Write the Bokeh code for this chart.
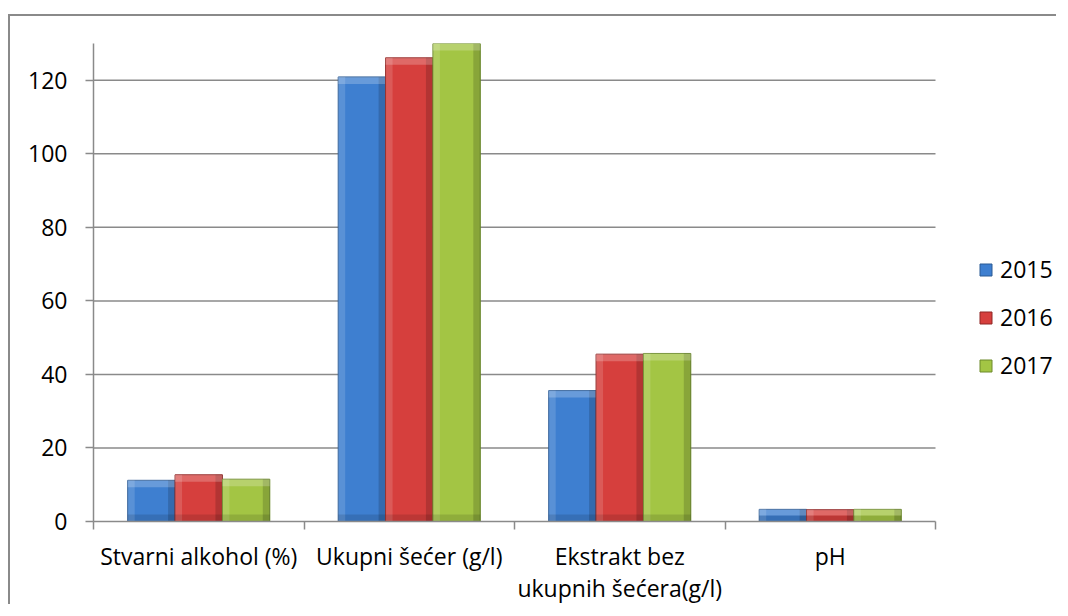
import numpy as np
from bokeh.plotting import figure
from bokeh.models import Range1d, FixedTicker, Legend, LegendItem, ColumnDataSource
from bokeh.embed import file_html
from bokeh.resources import INLINE

categories = ["Stvarni alkohol (%)", "Ukupni šećer (g/l)", "Ekstrakt bez\nukupnih šećera(g/l)", "pH"]
years = ["2015", "2016", "2017"]
v2015 = [11.2, 120.9, 35.6, 3.3]
v2016 = [12.7, 126.1, 45.5, 3.2]
v2017 = [11.5, 130.5, 45.7, 3.3]
yticks = [0, 20, 40, 60, 80, 100, 120]

colors = ["#3e7fd0", "#d63f3d", "#a3c544"]
edges = ["#2b5a94", "#8f2624", "#6c8a2a"]
series = [v2015, v2016, v2017]

FONT = "Open Sans"
FS = "23px"
GRID = "#8a8a8a"

W, H = 1048, 590
ML, MT, PLOT_W, PLOT_H = 83, 27, 842, 479
FRAME_W = W - ML
ncat = len(categories)
YMAX = 130
p = figure(width=W, height=H, output_backend="svg", toolbar_location=None,
           x_range=Range1d(0, ncat * FRAME_W / PLOT_W), y_range=Range1d(0, YMAX),
           min_border_left=ML, min_border_top=MT, min_border_right=0, min_border_bottom=H - MT - PLOT_H)
p.styles = {"border-top": "2px solid #8a8a8a", "border-left": "2px solid #8a8a8a",
            "margin-top": "14px", "margin-left": "8px"}
p.outline_line_color = None
p.background_fill_color = "white"
p.border_fill_color = "white"
p.xgrid.grid_line_color = None
p.ygrid.grid_line_color = None

# horizontal gridlines limited to the category area
gy = yticks[1:]
p.segment(x0=[0] * len(gy), x1=[ncat] * len(gy), y0=gy, y1=gy, line_color=GRID, line_width=1.5)

centers = np.arange(ncat) + 0.5
bw = 0.225
offsets = [-bw, 0.0, bw]
# bevel sizes (≈7 px) expressed in data units
bx = 7 * ncat / PLOT_W
by = 7 * YMAX / PLOT_H
renderers = []
for vals, off, c, e in zip(series, offsets, colors, edges):
    v = np.array(vals, dtype=float)
    x = centers + off
    src = ColumnDataSource(dict(x=x, top=v))
    r = p.vbar(x="x", top="top", width=bw, bottom=0, source=src,
               fill_color=c, line_color=e, line_width=1)
    renderers.append(r)
    vt = np.minimum(v, YMAX)
    band = np.minimum(by, vt / 2)
    # left light edge, right dark edge, bottom dark edge, top light cap
    p.quad(left=x - bw / 2, right=x - bw / 2 + bx, top=vt, bottom=0,
           fill_color="white", fill_alpha=0.14, line_color=None)
    p.quad(left=x + bw / 2 - bx, right=x + bw / 2, top=vt, bottom=0,
           fill_color="black", fill_alpha=0.16, line_color=None)
    p.quad(left=x - bw / 2, right=x + bw / 2, top=band, bottom=0,
           fill_color="black", fill_alpha=0.12, line_color=None)
    p.quad(left=x - bw / 2, right=x + bw / 2, top=vt, bottom=vt - band,
           fill_color="white", fill_alpha=0.22, line_color=None)

# axes
p.xaxis.bounds = (0, ncat)
p.xaxis.ticker = FixedTicker(ticks=list(centers), minor_ticks=list(range(ncat + 1)))
p.xaxis.major_label_overrides = {float(c): lab for c, lab in zip(centers, categories)}
p.xaxis.major_tick_out = 0
p.xaxis.major_tick_in = 0
p.xaxis.minor_tick_out = 8
p.xaxis.minor_tick_in = 0
p.xaxis.minor_tick_line_color = GRID
p.xaxis.minor_tick_line_width = 1.5
p.xaxis.axis_line_color = GRID
p.xaxis.axis_line_width = 1.5
p.xaxis.major_label_text_font = FONT
p.xaxis.major_label_text_font_size = FS
p.xaxis.major_label_text_color = "black"
p.xaxis.major_label_text_line_height = 1.0
p.xaxis.major_label_standoff = 10

p.yaxis.ticker = FixedTicker(ticks=yticks)
p.yaxis.minor_tick_line_color = None
p.yaxis.major_tick_out = 8
p.yaxis.major_tick_in = 0
p.yaxis.major_tick_line_color = GRID
p.yaxis.major_tick_line_width = 1.5
p.yaxis.axis_line_color = GRID
p.yaxis.axis_line_width = 1.5
p.yaxis.major_label_text_font = FONT
p.yaxis.major_label_text_font_size = FS
p.yaxis.major_label_text_color = "black"
p.yaxis.major_label_standoff = 18

legend = Legend(items=[LegendItem(label=y, renderers=[r]) for y, r in zip(years, renderers)],
                location=(885, 140), padding=0, margin=0, spacing=16,
                glyph_width=15, glyph_height=15, label_height=28, label_standoff=7,
                label_text_font=FONT, label_text_font_size=FS, label_text_color="black",
                border_line_color=None, background_fill_alpha=0)
p.add_layout(legend, "center")

open("out.html", "w").write(file_html(p, INLINE))
